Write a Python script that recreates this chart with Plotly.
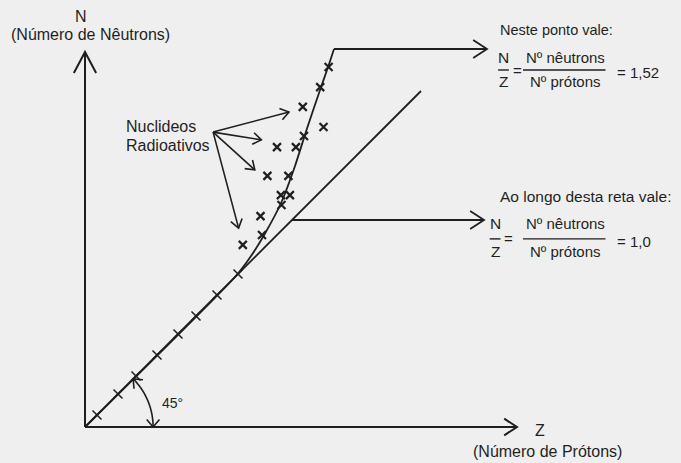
import numpy as np
import plotly.graph_objects as go

# ---- data (Z = protons, N = neutrons) ----
# line N = Z
line_z = [0, 112]
line_n = [0, 112]

# band of stability: follows N = Z for light nuclides, then bends up to Z=83, N=126
band_z = [0, 50, 55, 60, 65.5, 70, 74, 78.4, 81.2, 83]
band_n = [0, 50, 56.5, 64.5, 75, 87, 99.5, 112.5, 120.5, 126]

# light nuclides sitting on N = Z
light_z = [4, 11, 17, 24, 31, 37, 44, 51]
light_n = [4, 11, 17, 24, 31, 37, 44, 51]

# heavier nuclides around the band
heavy_z = [81.2, 78.4, 72.6, 79.5, 73.0, 64.0, 70.3, 60.8, 67.8, 65.3, 68.3, 65.5, 58.5, 59.0, 52.6]
heavy_n = [120, 113.3, 106.7, 100, 97, 93.3, 93.3, 83.7, 83.7, 77.3, 77.3, 74, 70.3, 64, 60.7]

angle_deg = 45

# ---- styling ----
INK = "#1f1f1f"
BG = "#efefef"
FONT = "Arial, Liberation Sans, sans-serif"
PX = 3.0  # pixels per unit on both axes (equal scale keeps 45 degrees true)

shapes = []


def seg(x0, y0, x1, y1, w=1.8):
    shapes.append(dict(type="line", xref="x", yref="y", x0=x0, y0=y0, x1=x1, y1=y1,
                       line=dict(color=INK, width=w)))


def chevron(tx, ty, ux, uy, length, half_deg, w=1.8):
    """Open arrow head with its tip at (tx, ty), pointing along (ux, uy)."""
    n = np.hypot(ux, uy)
    ux, uy = ux / n, uy / n
    pts = []
    for s in (1, -1):
        a = np.radians(half_deg) * s
        bx = -(ux * np.cos(a) - uy * np.sin(a))
        by = -(ux * np.sin(a) + uy * np.cos(a))
        pts.append((tx + length * bx, ty + length * by))
    path = f"M {pts[0][0]},{pts[0][1]} L {tx},{ty} L {pts[1][0]},{pts[1][1]}"
    shapes.append(dict(type="path", xref="x", yref="y", path=path,
                       line=dict(color=INK, width=w)))


def arrow(x0, y0, x1, y1, length, half_deg, w=1.8):
    seg(x0, y0, x1, y1, w)
    chevron(x1, y1, x1 - x0, y1 - y0, length, half_deg, w)


# axes
arrow(0, 0, 144, 0, 5.1, 33, 2)
arrow(0, 0, 0, 125, 7.9, 28, 2)

# 45 degree arc with heads at both ends
r = 22.7
th = np.radians(np.linspace(0, angle_deg, 40))
ax_, ay_ = r * np.cos(th), r * np.sin(th)
shapes.append(dict(type="path", xref="x", yref="y",
                   path="M " + " L ".join(f"{a},{b}" for a, b in zip(ax_, ay_)),
                   line=dict(color=INK, width=1.6)))
t1 = np.radians(angle_deg)
chevron(ax_[-1], ay_[-1], -np.sin(t1), np.cos(t1), 3.3, 40, 1.6)
chevron(ax_[0], ay_[0], 0, -1, 3.3, 40, 1.6)

# pointer arrows to the ratio boxes
top_z, top_n = band_z[-1], band_n[-1]
arrow(top_z, top_n, 134, top_n, 5.5, 33)
arrow(69, 69, 133, 69, 5.5, 33)

# pointer arrows from the "Nuclideos Radioativos" label
src = (42.7, 98.3)
for tz, tn in [(68, 105), (58.8, 95.7), (56.6, 85.7), (51.2, 66.3)]:
    arrow(src[0], src[1], tz, tn, 3.4, 35, 1.6)

fig = go.Figure()
fig.add_trace(go.Scatter(x=line_z, y=line_n, mode="lines",
                         line=dict(color=INK, width=1.8), hoverinfo="skip"))
fig.add_trace(go.Scatter(x=band_z, y=band_n, mode="lines",
                         line=dict(color=INK, width=1.8, shape="spline", smoothing=0.6),
                         hoverinfo="skip"))
fig.add_trace(go.Scatter(x=light_z, y=light_n, mode="markers",
                         marker=dict(symbol="x-thin", size=9,
                                     line=dict(color=INK, width=1.5))))
fig.add_trace(go.Scatter(x=heavy_z, y=heavy_n, mode="markers",
                         marker=dict(symbol="x-thin", size=8,
                                     line=dict(color=INK, width=2.2))))

ratio_top = top_n / top_z
ratio_line = line_n[-1] / line_z[-1]

annotations = []


def text(x, y, s, size=15, xanchor="center"):
    annotations.append(dict(x=x, y=y, xref="x", yref="y", text=s, showarrow=False,
                            xanchor=xanchor, yanchor="middle",
                            font=dict(family=FONT, size=size, color=INK)))


text(-1.3, 137, "N", 16)
text(1.7, 131, "(Número de Nêutrons)", 16)
text(151.7, -1, "Z", 16)
text(154.3, -8, "(Número de Prótons)", 16)
text(29.3, 8, "45°", 14)
text(13, 100.3, "Nuclideos", 16, "left")
text(13, 94, "Radioativos", 16, "left")

yl_label = {132.3: "Neste ponto vale:", 76.7: "Ao longo desta reta vale:"}


def ratio_block(yl, y_n, y_bar, y_z, zx, value, size_l=15):
    text(137.8, yl, yl_label[yl], size_l, "left")
    text(zx, y_n, "N", 15.5)
    seg(zx - 1.8, y_bar, zx + 1.8, y_bar, 1.4)
    text(zx, y_z, "Z", 15.5)
    text(zx + 4.6, y_bar, "=", 15)
    text(160, y_n, "Nº nêutrons", 15)
    seg(146, y_bar, 173.5, y_bar, 1.4)
    text(160, y_z, "Nº prótons", 15)
    text(176.5, y_bar - 0.7, "= " + value, 15, "left")


ratio_block(132.3, 123.3, 119, 115.3, 139.5, f"{ratio_top:.2f}".replace(".", ","), 14.5)
ratio_block(76.7, 68, 62.7, 58.4, 136.7, f"{ratio_line:.1f}".replace(".", ","), 15.5)

fig.update_layout(
    width=681, height=463,
    margin=dict(l=0, r=0, t=0, b=0),
    paper_bgcolor=BG, plot_bgcolor=BG,
    showlegend=False,
    xaxis=dict(visible=False, range=[-85 / PX, (681 - 85) / PX], fixedrange=True),
    yaxis=dict(visible=False, range=[-(463 - 427) / PX, 427 / PX], fixedrange=True),
    shapes=shapes,
    annotations=annotations,
)

fig.write_html("out.html", config=dict(displayModeBar=False))
